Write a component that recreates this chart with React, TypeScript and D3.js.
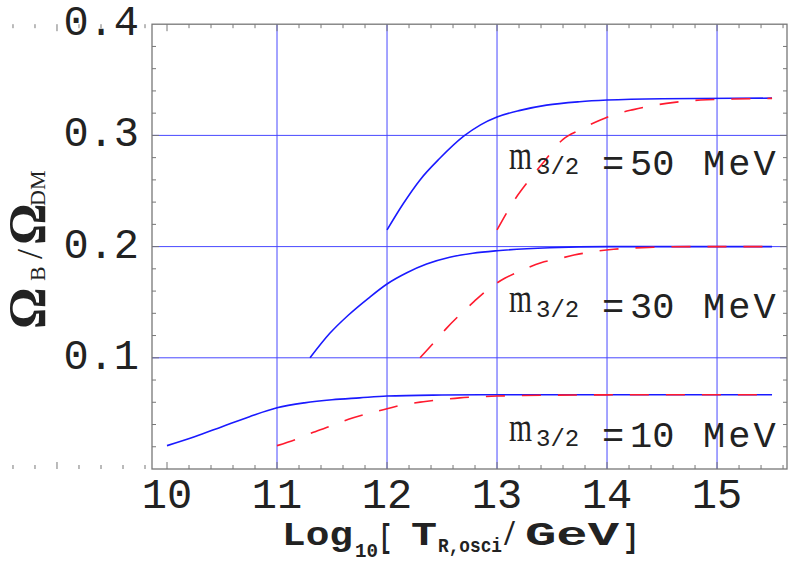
import React from "react";
import * as d3 from "d3";

// ---- data ----
const xTicks = [10, 11, 12, 13, 14, 15];
const yTicks = [0.1, 0.2, 0.3, 0.4];
const xGrid = [11, 12, 13, 14, 15];
const yGrid = [0.1, 0.2, 0.3];

const blue10: [number, number][] = [
  [10, 0.021], [10.25, 0.029], [10.5, 0.038], [10.75, 0.047], [11, 0.055],
  [11.25, 0.0595], [11.5, 0.0623], [11.75, 0.064], [12, 0.0656], [12.5, 0.0665],
  [13, 0.0668], [14, 0.0668], [15.5, 0.0668],
];
const red10: [number, number][] = [
  [11, 0.021], [11.18, 0.027], [11.33, 0.033], [11.5, 0.039], [11.65, 0.0447],
  [11.82, 0.0497], [12, 0.0542], [12.16, 0.058], [12.33, 0.0605], [12.5, 0.0625],
  [12.66, 0.064], [12.85, 0.065], [13, 0.0656], [13.2, 0.066], [13.54, 0.0664],
  [14, 0.0667], [15.5, 0.0668],
];
const blue30: [number, number][] = [
  [11.3, 0.1], [11.48, 0.122], [11.65, 0.1385], [11.83, 0.1535], [12, 0.1664],
  [12.18, 0.1765], [12.36, 0.1843], [12.57, 0.1904], [12.78, 0.194], [13, 0.1963],
  [13.48, 0.199], [14, 0.2], [15.5, 0.2],
];
const red30: [number, number][] = [
  [12.3, 0.1], [12.42, 0.113], [12.54, 0.1265], [12.66, 0.1385], [12.79, 0.1505],
  [12.91, 0.161], [13.07, 0.1715], [13.21, 0.178], [13.4, 0.1855], [13.54, 0.1886],
  [13.7, 0.1924], [14.06, 0.1976], [14.42, 0.1994], [14.78, 0.2], [15.5, 0.2],
];
const blue50: [number, number][] = [
  [12, 0.215], [12.15, 0.239], [12.3, 0.26], [12.48, 0.2794], [12.7, 0.2995],
  [12.85, 0.3095], [13, 0.3165], [13.21, 0.3225], [13.45, 0.3272], [13.75, 0.3303],
  [14, 0.3318], [14.5, 0.333], [15.5, 0.3335],
];
const red50: [number, number][] = [
  [13, 0.215], [13.18, 0.245], [13.27, 0.257], [13.42, 0.2755], [13.6, 0.2965],
  [13.75, 0.3049], [13.94, 0.3138], [14.09, 0.3195], [14.24, 0.3232], [14.54, 0.3288],
  [14.85, 0.3318], [15.15, 0.3327], [15.5, 0.3333],
];
const massLabels = ["50", "30", "10"];
const massLabelY = [0.2644, 0.1362, 0.0198];

const W = 788;
const H = 564;
const L = 152, R = 787, T = 24.2, B = 469;

export default function App() {
  const x = d3.scaleLinear().domain([9.8636, 15.636]).range([L, R]);
  const y = d3.scaleLinear().domain([0, 0.4]).range([B, T]);
  const line = d3
    .line<[number, number]>()
    .x((d) => x(d[0]))
    .y((d) => y(d[1]))
    .curve(d3.curveMonotoneX);

  const xMinor = d3.range(50, 157, 2).map((v) => v / 10).filter((v) => v <= 15.636);
  const yMinor = d3.range(1, 20).map((v) => v * 0.02);

  const mono = "'Liberation Mono', 'DejaVu Sans Mono', monospace";
  const serif = "'Liberation Serif', 'DejaVu Serif', serif";
  const gridColor = "#4848ff";
  const tickColor = "#777";
  const ink = "#222";
  const adj = "spacingAndGlyphs";

  return (
    <div style={{ position: "absolute", left: 0, top: 0 }}>
      <svg width={W} height={H} style={{ display: "block", background: "#fff" }}>
        {/* grid */}
        {xGrid.map((v) => (
          <line key={"gx" + v} x1={x(v)} x2={x(v)} y1={T} y2={B} stroke={gridColor} strokeWidth={1} />
        ))}
        {yGrid.map((v) => (
          <line key={"gy" + v} x1={L} x2={R} y1={y(v)} y2={y(v)} stroke={gridColor} strokeWidth={1} />
        ))}
        {/* ticks */}
        {xMinor.map((v) => {
          const major = Math.abs(v - Math.round(v)) < 1e-6;
          const len = major ? 7 : 4;
          return (
            <g key={"tx" + v}>
              <line x1={x(v)} x2={x(v)} y1={B} y2={B - len} stroke={tickColor} strokeWidth={1} />
              <line x1={x(v)} x2={x(v)} y1={T} y2={T + len} stroke={tickColor} strokeWidth={1} />
            </g>
          );
        })}
        {yMinor.map((v, i) => {
          const major = (i + 1) % 5 === 0;
          const len = major ? 7 : 4;
          return (
            <g key={"ty" + i}>
              <line x1={L} x2={L + len} y1={y(v)} y2={y(v)} stroke={tickColor} strokeWidth={1} />
              <line x1={R} x2={R - len} y1={y(v)} y2={y(v)} stroke={tickColor} strokeWidth={1} />
            </g>
          );
        })}
        {/* frame */}
        <rect x={L} y={T} width={R - L} height={B - T} fill="none" stroke={tickColor} strokeWidth={1.3} />

        {/* curves */}
        {[blue10, blue30, blue50].map((d, i) => (
          <path key={"b" + i} d={line(d) || ""} fill="none" stroke="#1a1aff" strokeWidth={1.6} />
        ))}
        {[red10, red30, red50].map((d, i) => (
          <path key={"r" + i} d={line(d) || ""} fill="none" stroke="#ff1a2e" strokeWidth={1.6} strokeDasharray="19 17" />
        ))}

        {/* tick labels */}
        {xTicks.map((v) => (
          <text key={"xl" + v} x={x(v)} y={508} textAnchor="middle" fontFamily={mono} fontSize={42} fill={ink}>
            {String(v)}
          </text>
        ))}
        {yTicks.map((v) => (
          <text key={"yl" + v} x={139} y={y(v) + 11} textAnchor="end" fontFamily={mono} fontSize={42} fill={ink}>
            {v.toFixed(1)}
          </text>
        ))}

        {/* mass labels */}
        {massLabels.map((m, i) => {
          const base = y(massLabelY[i]);
          return (
            <g key={"ml" + m} fill={ink}>
              <text x={509} y={base - 6} fontFamily={serif} fontSize={40} textLength={23} lengthAdjust={adj}>m</text>
              <text x={536} y={base - 1} fontFamily={mono} fontSize={24}>3/2</text>
              <text x={602} y={base} fontFamily={mono} fontSize={37}>=</text>
              <text x={630} y={base} fontFamily={mono} fontSize={37}>{m}</text>
              <text x={703} y={base} fontFamily={mono} fontSize={37} letterSpacing={3}>MeV</text>
            </g>
          );
        })}

        {/* x axis title */}
        <g fontFamily={mono} fontWeight="bold" fill={ink}>
          <text x={282} y={545} fontSize={33} textLength={71} lengthAdjust={adj}>Log</text>
          <text x={355} y={557} fontSize={21} textLength={23} lengthAdjust={adj}>10</text>
          <text x={379} y={547} fontSize={34} textLength={13} lengthAdjust={adj}>[</text>
          <text x={411} y={545} fontSize={33} textLength={26} lengthAdjust={adj}>T</text>
          <text x={438} y={552} fontSize={21} textLength={64} lengthAdjust={adj}>R,osci</text>
          <text x={503} y={545} fontSize={33} textLength={13} lengthAdjust={adj}>/</text>
          <text x={525} y={545} fontSize={33} textLength={94} lengthAdjust={adj}>GeV</text>
          <text x={623} y={547} fontSize={34} textLength={16} lengthAdjust={adj}>]</text>
        </g>

        {/* y axis title */}
        <g transform="translate(45,327) rotate(-90)" fill={ink}>
          <text x={-2} y={0} fontFamily={serif} fontWeight="bold" fontSize={52}>Ω</text>
          <text x={46} y={0} fontFamily={serif} fontSize={22}>B</text>
          <text x={68} y={-3} fontFamily={serif} fontSize={36}>/</text>
          <text x={82} y={0} fontFamily={serif} fontWeight="bold" fontSize={52}>Ω</text>
          <text x={121} y={0} fontFamily={serif} fontSize={22}>DM</text>
        </g>
      </svg>
    </div>
  );
}
